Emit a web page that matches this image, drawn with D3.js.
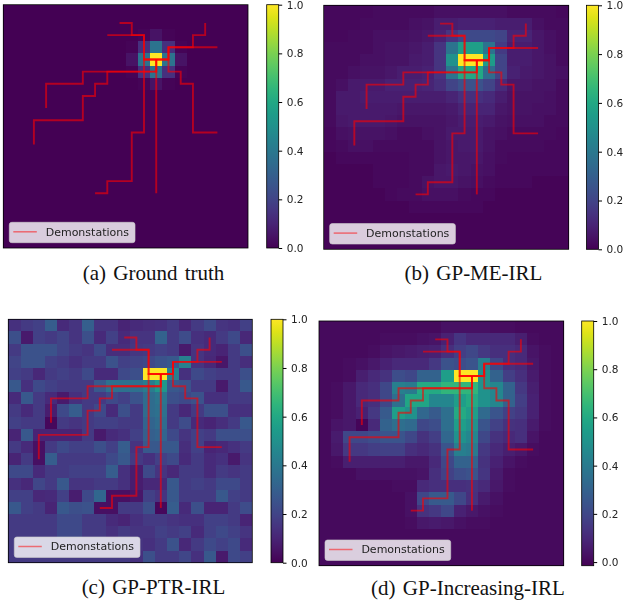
<!DOCTYPE html>
<html>
<head>
<meta charset="utf-8">
<script src="https://cdn.jsdelivr.net/npm/d3@7"></script>
<style>
  html, body { margin: 0; padding: 0; background: #fff; }
  svg { display: block; }
</style>
</head>
<body>
<svg id="chart" width="626" height="603"></svg>
<script>
var captions = ["(a) Ground truth", "(b) GP-ME-IRL", "(c) GP-PTR-IRL", "(d) GP-Increasing-IRL"];
var legendLabel = "Demonstations";
var colorTicks = [0, 0.2, 0.4, 0.6, 0.8, 1];
var cells = d3.range(20);

// demonstrations, as [col, row] on the 20x20 grid
var demoA = [[9,1],[10,1],[10,2],[11,2],[11,4],[12,4]];
var demoB = [[8,2],[11,2],[11,4],[12,4]];
var demoC = [[16,1],[16,2],[15,2],[15,3],[13,3],[13,4],[12,4]];
var demoD = [[17,3],[13,3],[13,4],[12,4]];
var demoE = [[17,10],[15,10],[15,6],[14,6],[14,5],[13,5],[13,3],[13,4],[12,4]];
var demoF = [[3,8],[3,6],[6,6],[6,5],[12,5],[12,4]];
var demoG = [[2,11],[2,9],[6,9],[6,7],[7,7],[7,6],[8,6],[8,5],[12,5],[12,4]];
var demoH = [[7,15],[8,15],[8,14],[10,14],[10,10],[11,10],[11,4],[12,4]];
var demoI = [[12,15],[12,4]];
var demos = [demoA, demoB, demoC, demoD, demoE, demoF, demoG, demoH, demoI];

var groundTruth = [
[0,0,0,0,0,0,0,0,0,0,0,0,0,0,0,0,0,0,0,0],
[0,0,0,0,0,0,0,0,0,0,0,0,0,0,0,0,0,0,0,0],
[0,0,0,0,0,0,0,0,0,0,0,.01,.05,.01,0,0,0,0,0,0],
[0,0,0,0,0,0,0,0,0,0,.01,.14,.38,.14,.01,0,0,0,0,0],
[0,0,0,0,0,0,0,0,0,0,.05,.38,1,.38,.05,0,0,0,0,0],
[0,0,0,0,0,0,0,0,0,0,.01,.14,.38,.14,.01,0,0,0,0,0],
[0,0,0,0,0,0,0,0,0,0,0,.01,.05,.01,0,0,0,0,0,0],
[0,0,0,0,0,0,0,0,0,0,0,0,0,0,0,0,0,0,0,0],
[0,0,0,0,0,0,0,0,0,0,0,0,0,0,0,0,0,0,0,0],
[0,0,0,0,0,0,0,0,0,0,0,0,0,0,0,0,0,0,0,0],
[0,0,0,0,0,0,0,0,0,0,0,0,0,0,0,0,0,0,0,0],
[0,0,0,0,0,0,0,0,0,0,0,0,0,0,0,0,0,0,0,0],
[0,0,0,0,0,0,0,0,0,0,0,0,0,0,0,0,0,0,0,0],
[0,0,0,0,0,0,0,0,0,0,0,0,0,0,0,0,0,0,0,0],
[0,0,0,0,0,0,0,0,0,0,0,0,0,0,0,0,0,0,0,0],
[0,0,0,0,0,0,0,0,0,0,0,0,0,0,0,0,0,0,0,0],
[0,0,0,0,0,0,0,0,0,0,0,0,0,0,0,0,0,0,0,0],
[0,0,0,0,0,0,0,0,0,0,0,0,0,0,0,0,0,0,0,0],
[0,0,0,0,0,0,0,0,0,0,0,0,0,0,0,0,0,0,0,0],
[0,0,0,0,0,0,0,0,0,0,0,0,0,0,0,0,0,0,0,0]
];

var gpMeIrl = [
[.02,.02,.02,.02,.03,.03,.03,.03,.03,.04,.04,.04,.04,.04,.04,.03,.03,.03,.03,.02],
[.02,.02,.02,.03,.03,.03,.03,.04,.05,.08,.08,.09,.09,.09,.08,.08,.08,.04,.03,.03],
[.02,.02,.03,.03,.04,.04,.04,.05,.06,.09,.15,.22,.22,.22,.2,.1,.1,.06,.04,.03],
[.03,.03,.03,.03,.04,.05,.05,.06,.08,.15,.38,.56,.56,.38,.17,.08,.08,.06,.04,.03],
[.03,.03,.03,.04,.04,.05,.05,.07,.08,.15,.5,1,1,.55,.2,.08,.08,.06,.05,.03],
[.03,.03,.04,.05,.05,.06,.08,.08,.09,.15,.38,.6,.6,.35,.2,.09,.07,.06,.05,.04],
[.03,.04,.07,.07,.07,.09,.09,.09,.1,.13,.2,.25,.25,.2,.12,.06,.06,.05,.05,.03],
[.03,.07,.07,.08,.08,.08,.08,.08,.08,.08,.1,.14,.14,.12,.08,.05,.05,.05,.04,.03],
[.03,.07,.07,.07,.07,.07,.06,.06,.06,.06,.07,.1,.1,.1,.06,.05,.05,.04,.04,.03],
[.03,.06,.07,.07,.07,.06,.05,.05,.05,.05,.06,.08,.08,.07,.05,.04,.04,.04,.03,.03],
[.02,.04,.05,.05,.05,.04,.03,.03,.04,.05,.07,.07,.07,.05,.04,.03,.03,.03,.03,.02],
[.02,.03,.04,.04,.03,.03,.03,.03,.03,.05,.06,.07,.07,.05,.03,.03,.03,.03,.02,.02],
[.01,.02,.02,.02,.02,.02,.02,.03,.03,.05,.06,.06,.06,.04,.03,.02,.02,.02,.02,.02],
[.01,.01,.01,.01,.02,.02,.02,.03,.03,.06,.07,.06,.05,.04,.02,.02,.02,.02,.02,.02],
[.01,.01,.01,.01,.02,.02,.02,.03,.05,.06,.06,.05,.04,.03,.02,.02,.02,.01,.01,.01],
[.01,.01,.01,.01,.01,.02,.03,.03,.04,.04,.04,.03,.02,.02,.01,.01,.01,.01,.01,.01],
[.01,.01,.01,.01,.01,.01,.01,.02,.02,.02,.02,.02,.02,.01,.01,.01,.01,.01,.01,.01],
[.01,.01,.01,.01,.01,.01,.01,.01,.01,.01,.01,.01,.01,.01,.01,.01,.01,.01,.01,.01],
[.01,.01,.01,.01,.01,.01,.01,.01,.01,.01,.01,.01,.01,.01,.01,.01,.01,.01,.01,.01],
[.01,.01,.01,.01,.01,.01,.01,.01,.01,.01,.01,.01,.01,.01,.01,.01,.01,.01,.01,.01]
];

var gpPtrIrl = [
[.14,.17,.19,.29,.12,.15,.3,.15,.15,.1,.12,.13,.14,.17,.11,.17,.22,.15,.14,.19],
[.24,.07,.19,.17,.2,.15,.24,.12,.19,.12,.15,.15,.31,.17,.23,.14,.12,.17,.22,.11],
[.17,.25,.25,.25,.2,.17,.15,.22,.13,.13,.16,.17,.19,.17,.07,.15,.12,.1,.17,.24],
[.2,.25,.25,.19,.17,.14,.17,.17,.25,.19,.2,.22,.25,.27,.43,.15,.11,.06,.17,.13],
[.19,.17,.11,.17,.19,.17,.22,.12,.12,.22,.24,1,1,.43,.14,.22,.19,.17,.17,.24],
[.27,.14,.22,.19,.17,.17,.17,.27,.37,.37,.37,.42,.53,.27,.25,.17,.17,.07,.17,.27],
[.12,.27,.17,.12,.07,.14,.17,.17,.22,.19,.25,.35,.39,.24,.22,.25,.14,.14,.17,.17],
[.17,.12,.17,.08,.22,.29,.17,.22,.12,.24,.17,.35,.37,.17,.11,.17,.24,.24,.14,.14],
[.19,.17,.17,.02,.17,.15,.17,.19,.19,.17,.17,.32,.35,.17,.23,.12,.1,.13,.17,.27],
[.1,.27,.1,.1,.1,.1,.17,.07,.12,.14,.19,.3,.32,.22,.15,.19,.17,.24,.24,.24],
[.17,.12,.04,.17,.22,.19,.19,.24,.19,.29,.15,.27,.27,.27,.13,.19,.1,.11,.14,.17],
[.1,.17,.04,.29,.17,.17,.17,.17,.22,.27,.17,.14,.19,.22,.12,.17,.12,.14,.07,.15],
[.22,.22,.12,.17,.17,.19,.19,.19,.29,.14,.08,.22,.15,.11,.17,.17,.12,.17,.15,.17],
[.14,.11,.21,.17,.27,.15,.15,.17,.17,.14,.08,.11,.11,.27,.17,.19,.17,.22,.22,.17],
[.19,.19,.11,.12,.19,.08,.22,.33,.04,.04,.06,.19,.15,.27,.17,.17,.17,.27,.19,.17],
[.27,.19,.17,.1,.27,.24,.25,.04,.04,.17,.17,.24,.02,.29,.12,.24,.1,.1,.17,.23],
[.17,.17,.17,.17,.22,.22,.17,.17,.12,.1,.14,.17,.17,.15,.14,.14,.19,.19,.17,.1],
[.17,.17,.17,.17,.22,.22,.17,.17,.14,.17,.15,.15,.19,.17,.19,.12,.19,.22,.19,.15],
[.17,.17,.17,.17,.17,.17,.17,.17,.17,.17,.15,.14,.17,.25,.11,.17,.22,.19,.22,.12],
[.17,.17,.17,.17,.17,.17,.17,.17,.17,.17,.14,.24,.17,.17,.21,.14,.27,.07,.22,.19]
];

var gpIncreasingIrl = [
[.01,.01,.01,.01,.01,.01,.01,.01,.01,.01,.03,.03,.03,.03,.02,.02,.01,.01,.01,.01],
[.01,.01,.01,.01,.01,.02,.02,.02,.03,.04,.08,.14,.1,.1,.1,.1,.07,.02,.01,.01],
[.01,.01,.01,.01,.02,.04,.05,.06,.07,.08,.12,.17,.2,.15,.12,.12,.1,.04,.02,.01],
[.01,.01,.02,.03,.05,.08,.1,.1,.1,.15,.24,.22,.25,.42,.2,.12,.1,.05,.02,.01],
[.01,.01,.02,.07,.1,.13,.22,.2,.3,.3,.55,1,1,.5,.3,.17,.12,.06,.02,.01],
[.01,.02,.05,.1,.12,.2,.42,.4,.6,.6,.65,.65,.65,.5,.45,.3,.15,.07,.02,.01],
[.01,.02,.05,.1,.12,.2,.35,.58,.58,.45,.45,.55,.6,.5,.45,.3,.17,.08,.02,.01],
[.01,.02,.05,.08,.15,.27,.55,.5,.32,.27,.35,.6,.55,.33,.25,.18,.15,.08,.02,.01],
[.01,.04,.05,0,.1,.3,.35,.33,.2,.22,.35,.55,.5,.25,.18,.13,.12,.06,.02,.01],
[.01,.06,.2,.2,.22,.25,.25,.2,.13,.17,.32,.5,.45,.2,.13,.1,.12,.04,.01,.01],
[.01,.05,.15,.15,.17,.18,.18,.12,.1,.13,.25,.42,.4,.15,.1,.07,.05,.02,.01,.01],
[.01,.02,.07,.07,.07,.07,.07,.05,.05,.1,.2,.3,.3,.13,.08,.04,.02,.01,.01,.01],
[.01,.01,.01,.03,.03,.03,.03,.03,.04,.12,.18,.22,.24,.14,.06,.02,.01,.01,.01,.01],
[.01,.01,.01,.01,.01,.01,.02,.02,.1,.12,.12,.12,.13,.1,.05,.02,.01,.01,.01,.01],
[.01,.01,.01,.01,.01,.01,.01,.03,.2,.27,.27,.2,.12,.06,.03,.01,.01,.01,.01,.01],
[.01,.01,.01,.01,.01,.01,.01,.03,.13,.15,.2,.08,.05,.03,.02,.01,.01,.01,.01,.01],
[.01,.01,.01,.01,.01,.01,.01,.02,.05,.06,.05,.03,.02,.02,.01,.01,.01,.01,.01,.01],
[.01,.01,.01,.01,.01,.01,.01,.01,.01,.01,.01,.01,.01,.01,.01,.01,.01,.01,.01,.01],
[.01,.01,.01,.01,.01,.01,.01,.01,.01,.01,.01,.01,.01,.01,.01,.01,.01,.01,.01,.01],
[.01,.01,.01,.01,.01,.01,.01,.01,.01,.01,.01,.01,.01,.01,.01,.01,.01,.01,.01,.01]
];

var grids = [groundTruth, gpMeIrl, gpPtrIrl, gpIncreasingIrl];
var colorMins = [0, 0, 0, -0.015];

var layout = [
  { x0: 3.3, x1: 248, y0: 4.7, y1: 248, barX: 266.7, capX: 153.5, capY: 280 },
  { x0: 323.7, x1: 568.7, y0: 5.3, y1: 249.3, barX: 586.5, capX: 473.5, capY: 280 },
  { x0: 8.3, x1: 252.3, y0: 319.3, y1: 562.7, barX: 271, capX: 153.5, capY: 594 },
  { x0: 319, x1: 563.7, y0: 321, y1: 565.7, barX: 581.7, capX: 468, capY: 595 }
];

var svg = d3.select("#chart");
var defs = svg.append("defs");

defs.append("filter").attr("id", "soft")
  .attr("color-interpolation-filters", "sRGB")
  .attr("x", "-5%").attr("y", "-5%").attr("width", "110%").attr("height", "110%")
  .append("feGaussianBlur").attr("stdDeviation", 0.55);

var grad = defs.append("linearGradient").attr("id", "viridisBar")
  .attr("x1", 0).attr("x2", 0).attr("y1", 1).attr("y2", 0);
d3.range(0, 1.001, 0.05).forEach(function(t) {
  grad.append("stop").attr("offset", t).attr("stop-color", d3.interpolateViridis(t));
});

function drawPanel(i) {
  var p = layout[i];
  var color = d3.scaleSequential(d3.interpolateViridis).domain([colorMins[i], 1]);
  var x = d3.scaleBand().domain(cells).range([p.x0, p.x1]);
  var y = d3.scaleBand().domain(cells).range([p.y0, p.y1]);
  var px = function(d) { return x(d[0]) + x.bandwidth() / 2; };
  var py = function(d) { return y(d[1]) + y.bandwidth() / 2; };

  var g = svg.append("g").attr("filter", "url(#soft)");

  g.selectAll("g.row")
    .data(grids[i])
    .enter().append("g").attr("class", "row")
    .each(function(row, r) {
      d3.select(this).selectAll("rect")
        .data(row)
        .enter().append("rect")
        .attr("x", function(d, c) { return x(c); })
        .attr("y", y(r))
        .attr("width", x.bandwidth())
        .attr("height", y.bandwidth())
        .attr("shape-rendering", "crispEdges")
        .attr("fill", function(d) { return color(d); });
    });

  var line = d3.line().x(px).y(py);
  g.selectAll("path.demo")
    .data(demos)
    .enter().append("path")
    .attr("class", "demo")
    .attr("d", line)
    .attr("fill", "none")
    .attr("stroke", "#ff0000")
    .attr("stroke-opacity", 0.6)
    .attr("stroke-width", 1.9);

  g.append("rect")
    .attr("x", p.x0).attr("y", p.y0)
    .attr("width", p.x1 - p.x0).attr("height", p.y1 - p.y0)
    .attr("fill", "none")
    .attr("stroke", "#000")
    .attr("stroke-width", 0.8);

  // legend sits in the lower left corner of the axes
  var lg = g.append("g").attr("transform", "translate(" + (p.x0 + 6) + "," + (p.y1 - 25.7) + ")");
  lg.append("rect")
    .attr("width", 125.7).attr("height", 20.4).attr("rx", 2.5)
    .attr("fill", "#fff").attr("fill-opacity", 0.8)
    .attr("stroke", "#ccc").attr("stroke-opacity", 0.8).attr("stroke-width", 0.8);
  lg.append("line")
    .attr("x1", 4).attr("x2", 27.5).attr("y1", 9.5).attr("y2", 9.5)
    .attr("stroke", "#ff0000").attr("stroke-opacity", 0.5).attr("stroke-width", 1.5);
  lg.append("text")
    .attr("x", 36.4).attr("y", 13.3)
    .attr("font-family", "'DejaVu Sans'").attr("font-size", 11)
    .attr("fill", "#222")
    .text(legendLabel);

  // colorbar
  var bar = svg.append("g").attr("filter", "url(#soft)");
  var barW = 12;
  bar.append("rect")
    .attr("x", p.barX).attr("y", p.y0)
    .attr("width", barW).attr("height", p.y1 - p.y0)
    .attr("fill", "url(#viridisBar)")
    .attr("stroke", "#000").attr("stroke-width", 0.8);

  var scale = d3.scaleLinear().domain([colorMins[i], 1]).range([p.y1, p.y0]);
  var axis = d3.axisRight(scale)
    .tickValues(colorTicks)
    .tickFormat(d3.format(".1f"))
    .tickSize(3.5)
    .tickPadding(4.5);
  var ag = bar.append("g")
    .attr("transform", "translate(" + (p.barX + barW) + ",0)")
    .call(axis);
  ag.select(".domain").remove();
  ag.selectAll("text")
    .attr("font-family", "'DejaVu Sans'").attr("font-size", 10.5).attr("fill", "#222");

  svg.append("text")
    .attr("x", p.capX).attr("y", p.capY)
    .attr("text-anchor", "middle")
    .attr("font-family", "'Liberation Serif'").attr("font-size", 21)
    .attr("word-spacing", 2)
    .attr("fill", "#111")
    .text(captions[i]);
}

d3.range(4).forEach(drawPanel);
</script>
</body>
</html>
